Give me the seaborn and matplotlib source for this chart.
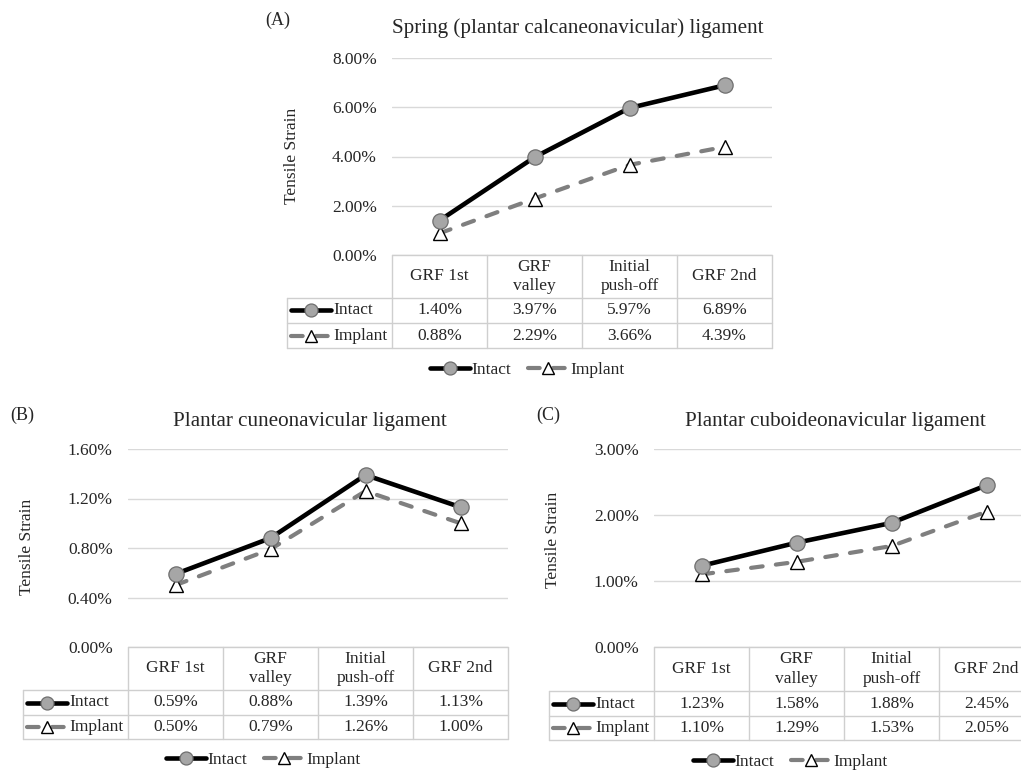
import numpy as np
import pandas as pd
import matplotlib
matplotlib.use("Agg")
import matplotlib.pyplot as plt
import seaborn as sns
from matplotlib.lines import Line2D

# ---------------- data ----------------
categories = ["GRF 1st", "GRF\nvalley", "Initial\npush-off", "GRF 2nd"]
series_names = ["Intact", "Implant"]

a_intact = [1.40, 3.97, 5.97, 6.89]
a_implant = [0.88, 2.29, 3.66, 4.39]
b_intact = [0.59, 0.88, 1.39, 1.13]
b_implant = [0.50, 0.79, 1.26, 1.00]
c_intact = [1.23, 1.58, 1.88, 2.45]
c_implant = [1.10, 1.29, 1.53, 2.05]

a_ticks = [0.0, 2.0, 4.0, 6.0, 8.0]
b_ticks = [0.0, 0.4, 0.8, 1.2, 1.6]
c_ticks = [0.0, 1.0, 2.0, 3.0]

titles = ["Spring (plantar calcaneonavicular) ligament",
          "Plantar cuneonavicular ligament",
          "Plantar cuboideonavicular ligament"]
panel_labels = ["(A)", "(B)", "(C)"]
ylabel = "Tensile Strain"

# ---------------- style ----------------
W, H = 1021, 770
sns.set_theme(style="white")
plt.rcParams["font.family"] = ["Liberation Serif", "DejaVu Serif"]

FS = 12.5
GRID = "#D9D9D9"
TBL = "#CFCFCF"
INTACT_C = "black"
IMPLANT_C = "#7F7F7F"
DASH = (0, (2.8, 3.2))

fig = plt.figure(figsize=(W / 100, H / 100), dpi=100)


def fx(x):
    return x / W


def fy(y):
    return 1 - y / H


layouts = [
    dict(left=392, right=772, top=58, bottom=255, h1=298, r1=323, r2=348, tleft=287,
         title=(578, 28), label=(265, 20), ylab=(292, 156), legend=(527, 370)),
    dict(left=128, right=508, top=449, bottom=647, h1=690, r1=715, r2=739, tleft=23,
         title=(310, 422), label=(10, 415), ylab=(27, 547), legend=(263, 760)),
    dict(left=654, right=1034, top=449, bottom=647, h1=691, r1=716, r2=740, tleft=549,
         title=(835, 422), label=(536, 415), ylab=(553, 540), legend=(790, 762)),
]

intact_kw = dict(color=INTACT_C, lw=3.3, marker="o", ms=11, mfc="#A6A6A6",
                 mec="#6E6E6E", mew=0.9, solid_capstyle="round")
implant_kw = dict(color=IMPLANT_C, lw=3.0, linestyle=DASH, marker="^", ms=10,
                  mfc="white", mec="black", mew=1.0, dash_capstyle="round")


def fig_line(x0, x1, y0, y1, **kw):
    fig.add_artist(Line2D([fx(x0), fx(x1)], [fy(y0), fy(y1)],
                          transform=fig.transFigure, **kw))


def draw_panel(intact, implant, ticks, title, label, L):
    ax = fig.add_axes([fx(L["left"]), fy(L["bottom"]),
                       (L["right"] - L["left"]) / W, (L["bottom"] - L["top"]) / H])
    xs = np.arange(len(categories))
    df = pd.DataFrame({"x": np.concatenate([xs, xs]),
                       "y": list(intact) + list(implant),
                       "cond": [series_names[0]] * len(xs) + [series_names[1]] * len(xs)})
    sns.lineplot(data=df[df.cond == series_names[0]], x="x", y="y", ax=ax,
                 legend=False, zorder=4, **intact_kw)
    sns.lineplot(data=df[df.cond == series_names[1]], x="x", y="y", ax=ax,
                 legend=False, zorder=3, **implant_kw)
    ax.set_xlim(-0.5, len(categories) - 0.5)
    ax.set_ylim(ticks[0], ticks[-1])
    ax.set_yticks(ticks)
    ax.set_yticklabels([f"{t:.2f}%" for t in ticks])
    ax.set_xticks([])
    ax.tick_params(axis="y", length=0, pad=11, labelsize=FS)
    ax.yaxis.grid(True, color=GRID, lw=1.0, zorder=0)
    ax.set_axisbelow(True)
    for s in ax.spines.values():
        s.set_visible(False)
    ax.set_xlabel("")
    ax.set_ylabel("")
    ax.patch.set_alpha(0)
    for ln in ax.lines:
        ln.set_clip_on(False)

    # title, panel label, y label
    fig.text(fx(L["title"][0]), fy(L["title"][1]), title, ha="center", va="center",
             fontsize=15.2)
    fig.text(fx(L["label"][0]), fy(L["label"][1]), label, ha="left", va="center",
             fontsize=FS + 0.5)
    fig.text(fx(L["ylab"][0]), fy(L["ylab"][1]), ylabel, ha="center", va="center",
             rotation=90, fontsize=12.5)

    # data table
    n = len(categories)
    cw = (L["right"] - L["left"]) / n
    cols = [L["left"] + i * cw for i in range(n + 1)]
    lk = dict(color=TBL, lw=1.0)
    fig_line(L["tleft"], L["right"], L["h1"], L["h1"], **lk)
    fig_line(L["tleft"], L["right"], L["r1"], L["r1"], **lk)
    fig_line(L["tleft"], L["right"], L["r2"], L["r2"], **lk)
    fig_line(L["left"], L["right"], L["bottom"], L["bottom"], **lk)
    fig_line(L["tleft"], L["tleft"], L["h1"], L["r2"], **lk)
    for c in cols:
        fig_line(c, c, L["bottom"], L["r2"], **lk)
    hy = (L["bottom"] + L["h1"]) / 2
    y1 = (L["h1"] + L["r1"]) / 2
    y2 = (L["r1"] + L["r2"]) / 2
    for i, cat in enumerate(categories):
        cx = L["left"] + (i + 0.5) * cw
        fig.text(fx(cx), fy(hy), cat, ha="center", va="center", fontsize=FS,
                 linespacing=1.3, multialignment="center")
        fig.text(fx(cx), fy(y1), f"{intact[i]:.2f}%", ha="center", va="center", fontsize=FS)
        fig.text(fx(cx), fy(y2), f"{implant[i]:.2f}%", ha="center", va="center", fontsize=FS)
    # legend keys in the table
    k0, k1 = L["tleft"] + 4, L["tleft"] + 44
    for yy, kw, name in [(y1, intact_kw, series_names[0]), (y2, implant_kw, series_names[1])]:
        line_kw = {k: v for k, v in kw.items() if k not in ("marker", "ms", "mfc", "mec", "mew")}
        fig_line(k0, k1, yy, yy, **line_kw)
        fig.add_artist(Line2D([fx((k0 + k1) / 2)], [fy(yy)], transform=fig.transFigure,
                              linestyle="none", marker=kw["marker"], ms=kw["ms"] * 0.85,
                              mfc=kw["mfc"], mec=kw["mec"], mew=kw["mew"]))
        fig.text(fx(k1 + 2), fy(yy), name, ha="left", va="center", fontsize=FS)

    # bottom legend
    handles = [ax.lines[0], ax.lines[1]]
    fig.legend(handles=handles, labels=series_names, loc="center",
               bbox_to_anchor=(fx(L["legend"][0]), fy(L["legend"][1])), ncol=2,
               frameon=False, fontsize=FS, handlelength=2.3, handletextpad=0.1,
               columnspacing=1.0, borderpad=0, markerscale=0.85)
    return ax


data = [(a_intact, a_implant, a_ticks), (b_intact, b_implant, b_ticks),
        (c_intact, c_implant, c_ticks)]
for (iv, mv, tk), t, lab, L in zip(data, titles, panel_labels, layouts):
    draw_panel(iv, mv, tk, t, lab, L)

fig.savefig("out.png", dpi=100, facecolor="white")
